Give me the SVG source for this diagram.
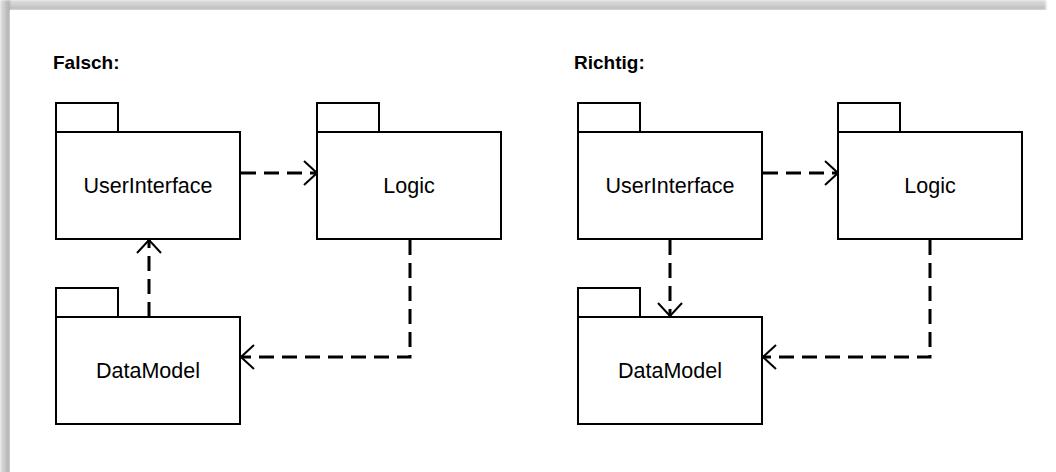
<svg xmlns="http://www.w3.org/2000/svg" width="1056" height="472" viewBox="0 0 1056 472">
  <defs>
    <linearGradient id="shadeTop" x1="0" y1="0" x2="0" y2="1">
      <stop offset="0" stop-color="#dcdcdc"/>
      <stop offset="0.6" stop-color="#cccccc"/>
      <stop offset="1" stop-color="#b4b4b4"/>
    </linearGradient>
    <linearGradient id="shadeLeft" x1="0" y1="0" x2="1" y2="0">
      <stop offset="0" stop-color="#e2e2e2"/>
      <stop offset="0.5" stop-color="#c8c8c8"/>
      <stop offset="1" stop-color="#a8a8a8"/>
    </linearGradient>
    <filter id="soft" x="-5%" y="-5%" width="110%" height="110%">
      <feGaussianBlur stdDeviation="1.2"/>
    </filter>
    <marker id="open" viewBox="0 0 16 28" refX="15" refY="14" markerWidth="16" markerHeight="28" markerUnits="userSpaceOnUse" orient="auto">
      <path d="M2,2 L15,14 L2,26" fill="none" stroke="#000" stroke-width="2"/>
    </marker>
    <style>
      .box { fill: #fff; stroke: #000; stroke-width: 2; }
      .label { font-family: "Liberation Sans", Arial, sans-serif; font-size: 21.5px; fill: #000; text-anchor: middle; }
      .title { font-family: "Liberation Sans", Arial, sans-serif; font-size: 19px; font-weight: bold; fill: #000; }
      .dep { fill: none; stroke: #000; stroke-width: 3; stroke-dasharray: 15 8; marker-end: url(#open); }
    </style>
  </defs>

  <!-- page background with soft edge shading -->
  <rect width="1056" height="472" fill="#fff"/>
  <g filter="url(#soft)">
    <rect x="0" y="0" width="1046" height="10" fill="url(#shadeTop)"/>
    <rect x="0" y="0" width="10" height="480" fill="url(#shadeLeft)"/>
  </g>
  <rect x="10" y="10" width="1060" height="470" fill="#fff"/>

  <!-- left panel -->
  <text class="title" x="53" y="69">Falsch:</text>

  <g id="ui-left">
    <rect class="box" x="56" y="103" width="62" height="29"/>
    <rect class="box" x="56" y="132" width="184" height="107"/>
    <text class="label" x="148" y="193">UserInterface</text>
  </g>
  <g id="logic-left">
    <rect class="box" x="317" y="103" width="62" height="29"/>
    <rect class="box" x="317" y="132" width="184" height="107"/>
    <text class="label" x="409" y="193">Logic</text>
  </g>
  <g id="data-left">
    <rect class="box" x="56" y="288" width="62" height="29"/>
    <rect class="box" x="56" y="317" width="184" height="107"/>
    <text class="label" x="148" y="378">DataModel</text>
  </g>

  <!-- right panel -->
  <text class="title" x="574" y="69">Richtig:</text>

  <g id="ui-right">
    <rect class="box" x="578" y="103" width="62" height="29"/>
    <rect class="box" x="578" y="132" width="184" height="107"/>
    <text class="label" x="670" y="193">UserInterface</text>
  </g>
  <g id="logic-right">
    <rect class="box" x="838" y="103" width="62" height="29"/>
    <rect class="box" x="838" y="132" width="184" height="107"/>
    <text class="label" x="930" y="193">Logic</text>
  </g>
  <g id="data-right">
    <rect class="box" x="578" y="288" width="62" height="29"/>
    <rect class="box" x="578" y="317" width="184" height="107"/>
    <text class="label" x="670" y="378">DataModel</text>
  </g>

  <!-- dependency arrows -->
  <g id="connectors">
    <path class="dep" d="M241,173 H317"/>
    <path class="dep" d="M149,317 V240"/>
    <path class="dep" d="M410,240 V357 H241"/>

    <path class="dep" d="M763,173 H838"/>
    <path class="dep" d="M670,240 V316"/>
    <path class="dep" d="M930,240 V357 H763"/>
  </g>
</svg>
